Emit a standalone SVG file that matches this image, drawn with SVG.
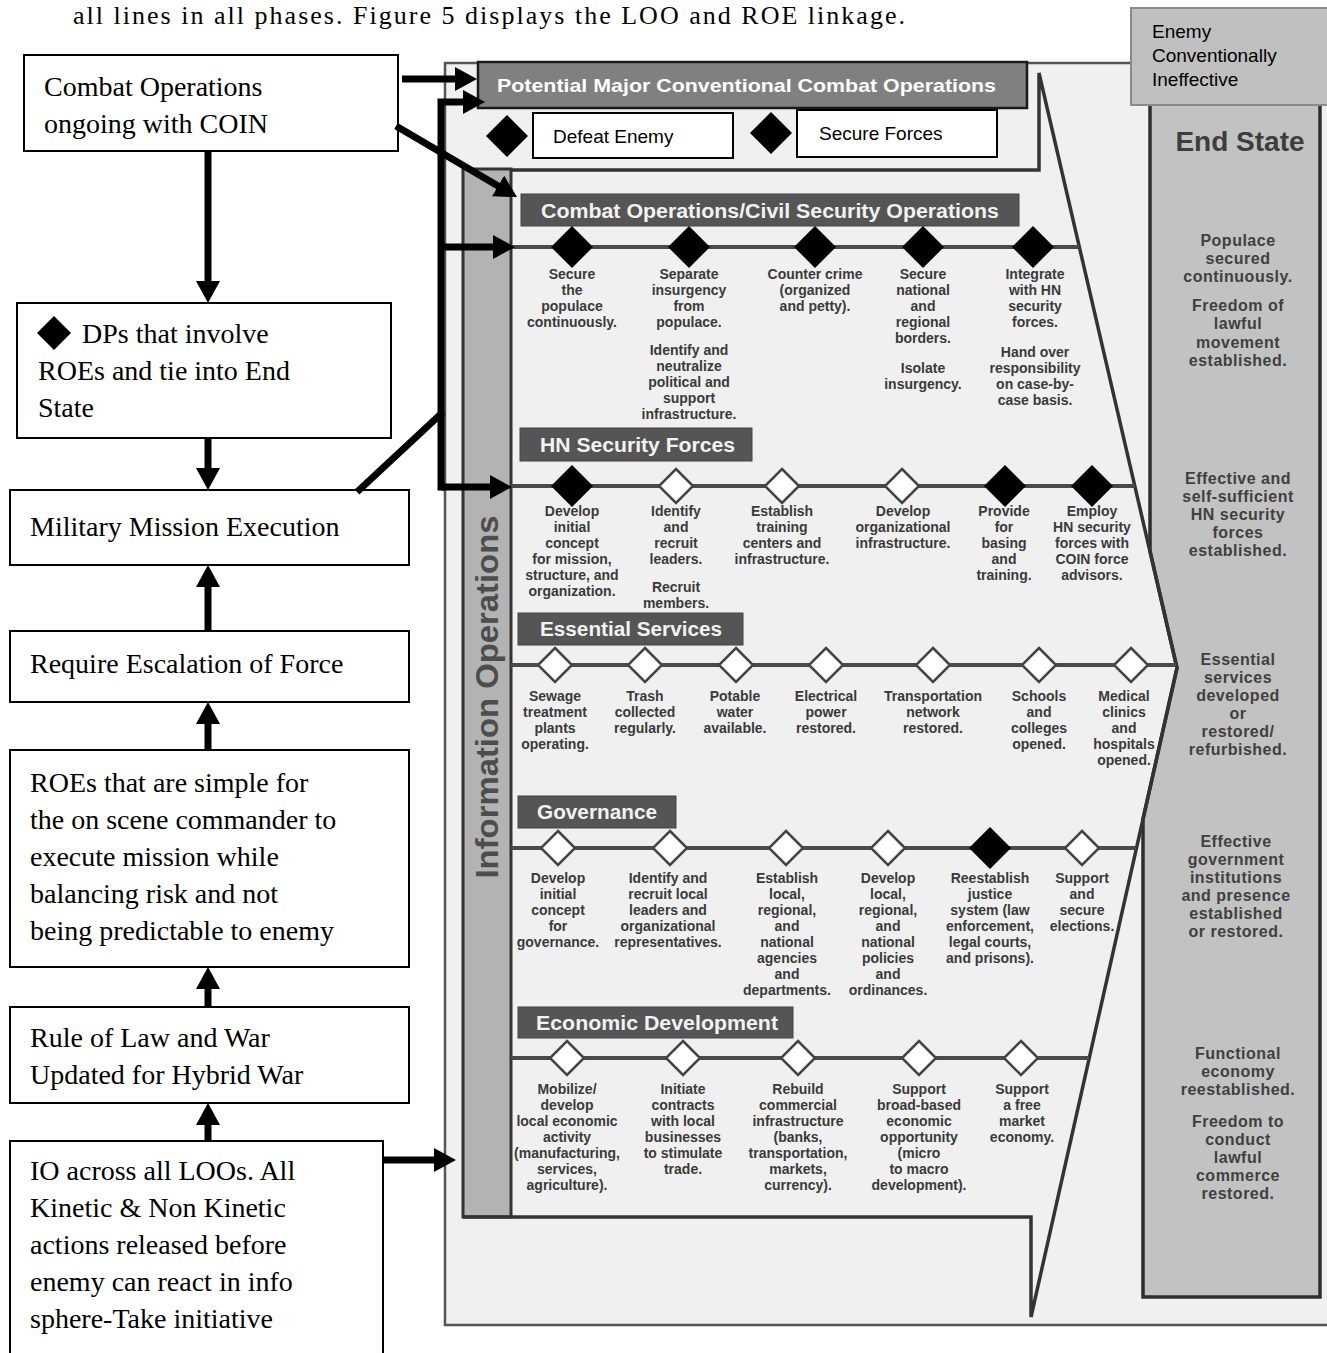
<svg xmlns="http://www.w3.org/2000/svg" xmlns:xlink="http://www.w3.org/1999/xlink" width="1327" height="1353" viewBox="0 0 1327 1353">
<defs>
<marker id="ah" viewBox="0 0 22 24" refX="4" refY="12" markerWidth="22" markerHeight="24" markerUnits="userSpaceOnUse" orient="auto"><path d="M0,0 L22,12 L0,24 Z" fill="#000"/></marker>
<path id="df" d="M0,-21 L21,0 L0,21 L-21,0 Z"/>
<path id="dhh" d="M0,-17 L17,0 L0,17 L-17,0 Z"/>
<style>
.box{fill:#fff;stroke:#000;stroke-width:2}
.bt{font-family:"Liberation Serif","Times New Roman",serif;font-size:28px;fill:#000}
.con{fill:none;stroke:#000;stroke-width:7;stroke-linejoin:miter}
.lb{font-family:"Liberation Sans",Arial,sans-serif;font-weight:bold;font-size:14px;fill:#3a3a3a;text-anchor:middle}
.es{font-family:"Liberation Sans",Arial,sans-serif;font-weight:bold;font-size:16px;letter-spacing:0.5px;fill:#404040;text-anchor:middle}
.est{font-family:"Liberation Sans",Arial,sans-serif;font-weight:bold;font-size:28px;fill:#3d3d3d;text-anchor:middle}
.hdr{fill:#555;stroke:#444;stroke-width:1}
.ht{font-family:"Liberation Sans",Arial,sans-serif;font-weight:bold;font-size:20px;fill:#f2f2f2}
.loo{stroke:#4a4a4a;stroke-width:4;fill:none}
.dk{fill:#000}
.dh{fill:#fff;stroke:#444;stroke-width:2.5}
.fr{fill:none;stroke:#333;stroke-width:3.5;stroke-linejoin:miter}
.sf{font-family:"Liberation Sans",Arial,sans-serif;font-size:19px;fill:#000}
</style>
</defs>

<rect width="1327" height="1353" fill="#fff"/>
<text x="73" y="24" font-family="'Liberation Serif','Times New Roman',serif" font-size="26" textLength="832" lengthAdjust="spacing">all lines in all phases.  Figure 5 displays the LOO and ROE linkage.</text>

<g id="figure">
<rect x="445" y="63" width="890" height="1262" fill="#f0f0f0" stroke="#555" stroke-width="2.5"/>
<polygon id="endstate-col" points="1150,66 1320,66 1320,1297 1143,1297 1143,819 1177,668 1150,551" fill="#c2c2c2" stroke="#2e2e2e" stroke-width="3.5"/>
<rect id="io-bar" x="463" y="169" width="48" height="1048" fill="#b3b3b3" stroke="#333" stroke-width="3"/>
<text transform="translate(498,697) rotate(-90)" text-anchor="middle" font-family="'Liberation Sans',Arial,sans-serif" font-weight="bold" font-size="31" fill="#4d4d4d" textLength="363" lengthAdjust="spacingAndGlyphs">Information Operations</text>
<path class="fr" d="M511,170 H1039 V73 L1177,668 L1031,1317 V1217 H463"/>

<text class="est" x="1240" y="151">End State</text>
<text class="es"><tspan x="1238" y="246">Populace</tspan><tspan x="1238" y="264">secured</tspan><tspan x="1238" y="282">continuously.</tspan><tspan x="1238" y="311">Freedom of</tspan><tspan x="1238" y="329">lawful</tspan><tspan x="1238" y="348">movement</tspan><tspan x="1238" y="366">established.</tspan></text>
<text class="es"><tspan x="1238" y="484">Effective and</tspan><tspan x="1238" y="502">self-sufficient</tspan><tspan x="1238" y="520">HN security</tspan><tspan x="1238" y="538">forces</tspan><tspan x="1238" y="556">established.</tspan></text>
<text class="es"><tspan x="1238" y="665">Essential</tspan><tspan x="1238" y="683">services</tspan><tspan x="1238" y="701">developed</tspan><tspan x="1238" y="719">or</tspan><tspan x="1238" y="737">restored/</tspan><tspan x="1238" y="755">refurbished.</tspan></text>
<text class="es"><tspan x="1236" y="847">Effective</tspan><tspan x="1236" y="865">government</tspan><tspan x="1236" y="883">institutions</tspan><tspan x="1236" y="901">and presence</tspan><tspan x="1236" y="919">established</tspan><tspan x="1236" y="937">or restored.</tspan></text>
<text class="es"><tspan x="1238" y="1059">Functional</tspan><tspan x="1238" y="1077">economy</tspan><tspan x="1238" y="1095">reestablished.</tspan><tspan x="1238" y="1127">Freedom to</tspan><tspan x="1238" y="1145">conduct</tspan><tspan x="1238" y="1163">lawful</tspan><tspan x="1238" y="1181">commerce</tspan><tspan x="1238" y="1199">restored.</tspan></text>
</g>

<g id="potential">
<rect x="478" y="62" width="549" height="46" fill="#808080" stroke="#1a1a1a" stroke-width="2.5"/>
<text x="497" y="92" font-family="'Liberation Sans',Arial,sans-serif" font-weight="bold" font-size="19" fill="#fff" textLength="499" lengthAdjust="spacingAndGlyphs">Potential Major Conventional Combat Operations</text>
<use xlink:href="#df" x="507" y="136" class="dk"/>
<rect x="533" y="113" width="200" height="45" class="box"/>
<text class="sf" x="553" y="143">Defeat Enemy</text>
<use xlink:href="#df" x="771" y="133" class="dk"/>
<rect x="797" y="110" width="200" height="47" class="box"/>
<text class="sf" x="819" y="140">Secure Forces</text>
</g>

<g id="enemy-ineffective">
<rect x="1131" y="8" width="200" height="97" fill="#c0c0c0" stroke="#8a8a8a" stroke-width="2"/>
<text class="sf"><tspan x="1152" y="38">Enemy</tspan><tspan x="1152" y="62">Conventionally</tspan><tspan x="1152" y="86">Ineffective</tspan></text>
</g>

<g id="loo-civsec">
<rect class="hdr" x="521" y="194" width="498" height="32"/>
<text class="ht" x="541" y="218" font-size="19" textLength="458" lengthAdjust="spacingAndGlyphs">Combat Operations/Civil Security Operations</text>
<line class="loo" x1="511" y1="247" x2="1079" y2="247"/>
<use xlink:href="#df" x="572" y="247" class="dk"/>
<use xlink:href="#df" x="689" y="247" class="dk"/>
<use xlink:href="#df" x="815" y="247" class="dk"/>
<use xlink:href="#df" x="923" y="247" class="dk"/>
<use xlink:href="#df" x="1033" y="247" class="dk"/>
<text class="lb"><tspan x="572" y="279">Secure</tspan><tspan x="572" y="295">the</tspan><tspan x="572" y="311">populace</tspan><tspan x="572" y="327">continuously.</tspan></text>
<text class="lb"><tspan x="689" y="279">Separate</tspan><tspan x="689" y="295">insurgency</tspan><tspan x="689" y="311">from</tspan><tspan x="689" y="327">populace.</tspan><tspan x="689" y="355">Identify and</tspan><tspan x="689" y="371">neutralize</tspan><tspan x="689" y="387">political and</tspan><tspan x="689" y="403">support</tspan><tspan x="689" y="419">infrastructure.</tspan></text>
<text class="lb"><tspan x="815" y="279">Counter crime</tspan><tspan x="815" y="295">(organized</tspan><tspan x="815" y="311">and petty).</tspan></text>
<text class="lb"><tspan x="923" y="279">Secure</tspan><tspan x="923" y="295">national</tspan><tspan x="923" y="311">and</tspan><tspan x="923" y="327">regional</tspan><tspan x="923" y="343">borders.</tspan><tspan x="923" y="373">Isolate</tspan><tspan x="923" y="389">insurgency.</tspan></text>
<text class="lb"><tspan x="1035" y="279">Integrate</tspan><tspan x="1035" y="295">with HN</tspan><tspan x="1035" y="311">security</tspan><tspan x="1035" y="327">forces.</tspan><tspan x="1035" y="357">Hand over</tspan><tspan x="1035" y="373">responsibility</tspan><tspan x="1035" y="389">on case-by-</tspan><tspan x="1035" y="405">case basis.</tspan></text>
</g>

<g id="loo-hn">
<rect class="hdr" x="520" y="428" width="232" height="33"/>
<text class="ht" x="540" y="452" textLength="195" lengthAdjust="spacingAndGlyphs">HN Security Forces</text>
<line class="loo" x1="511" y1="486" x2="1135" y2="486"/>
<use xlink:href="#df" x="572" y="486" class="dk"/>
<use xlink:href="#dhh" x="676" y="486" class="dh"/>
<use xlink:href="#dhh" x="782" y="486" class="dh"/>
<use xlink:href="#dhh" x="902" y="486" class="dh"/>
<use xlink:href="#df" x="1005" y="486" class="dk"/>
<use xlink:href="#df" x="1092" y="486" class="dk"/>
<text class="lb"><tspan x="572" y="516">Develop</tspan><tspan x="572" y="532">initial</tspan><tspan x="572" y="548">concept</tspan><tspan x="572" y="564">for mission,</tspan><tspan x="572" y="580">structure, and</tspan><tspan x="572" y="596">organization.</tspan></text>
<text class="lb"><tspan x="676" y="516">Identify</tspan><tspan x="676" y="532">and</tspan><tspan x="676" y="548">recruit</tspan><tspan x="676" y="564">leaders.</tspan><tspan x="676" y="592">Recruit</tspan><tspan x="676" y="608">members.</tspan></text>
<text class="lb"><tspan x="782" y="516">Establish</tspan><tspan x="782" y="532">training</tspan><tspan x="782" y="548">centers and</tspan><tspan x="782" y="564">infrastructure.</tspan></text>
<text class="lb"><tspan x="903" y="516">Develop</tspan><tspan x="903" y="532">organizational</tspan><tspan x="903" y="548">infrastructure.</tspan></text>
<text class="lb"><tspan x="1004" y="516">Provide</tspan><tspan x="1004" y="532">for</tspan><tspan x="1004" y="548">basing</tspan><tspan x="1004" y="564">and</tspan><tspan x="1004" y="580">training.</tspan></text>
<text class="lb"><tspan x="1092" y="516">Employ</tspan><tspan x="1092" y="532">HN security</tspan><tspan x="1092" y="548">forces with</tspan><tspan x="1092" y="564">COIN force</tspan><tspan x="1092" y="580">advisors.</tspan></text>
</g>

<g id="loo-essential">
<rect class="hdr" x="518" y="613" width="225" height="32"/>
<text class="ht" x="540" y="636" textLength="182" lengthAdjust="spacingAndGlyphs">Essential Services</text>
<line class="loo" x1="511" y1="665" x2="1176" y2="665"/>
<use xlink:href="#dhh" x="555" y="665" class="dh"/>
<use xlink:href="#dhh" x="645" y="665" class="dh"/>
<use xlink:href="#dhh" x="736" y="665" class="dh"/>
<use xlink:href="#dhh" x="826" y="665" class="dh"/>
<use xlink:href="#dhh" x="933" y="665" class="dh"/>
<use xlink:href="#dhh" x="1039" y="665" class="dh"/>
<use xlink:href="#dhh" x="1131" y="665" class="dh"/>
<text class="lb"><tspan x="555" y="701">Sewage</tspan><tspan x="555" y="717">treatment</tspan><tspan x="555" y="733">plants</tspan><tspan x="555" y="749">operating.</tspan></text>
<text class="lb"><tspan x="645" y="701">Trash</tspan><tspan x="645" y="717">collected</tspan><tspan x="645" y="733">regularly.</tspan></text>
<text class="lb"><tspan x="735" y="701">Potable</tspan><tspan x="735" y="717">water</tspan><tspan x="735" y="733">available.</tspan></text>
<text class="lb"><tspan x="826" y="701">Electrical</tspan><tspan x="826" y="717">power</tspan><tspan x="826" y="733">restored.</tspan></text>
<text class="lb"><tspan x="933" y="701">Transportation</tspan><tspan x="933" y="717">network</tspan><tspan x="933" y="733">restored.</tspan></text>
<text class="lb"><tspan x="1039" y="701">Schools</tspan><tspan x="1039" y="717">and</tspan><tspan x="1039" y="733">colleges</tspan><tspan x="1039" y="749">opened.</tspan></text>
<text class="lb"><tspan x="1124" y="701">Medical</tspan><tspan x="1124" y="717">clinics</tspan><tspan x="1124" y="733">and</tspan><tspan x="1124" y="749">hospitals</tspan><tspan x="1124" y="765">opened.</tspan></text>
</g>

<g id="loo-governance">
<rect class="hdr" x="518" y="796" width="158" height="32"/>
<text class="ht" x="537" y="819" textLength="120" lengthAdjust="spacingAndGlyphs">Governance</text>
<line class="loo" x1="511" y1="848" x2="1136" y2="848"/>
<use xlink:href="#dhh" x="558" y="848" class="dh"/>
<use xlink:href="#dhh" x="670" y="848" class="dh"/>
<use xlink:href="#dhh" x="786" y="848" class="dh"/>
<use xlink:href="#dhh" x="888" y="848" class="dh"/>
<use xlink:href="#df" x="990" y="848" class="dk"/>
<use xlink:href="#dhh" x="1082" y="848" class="dh"/>
<text class="lb"><tspan x="558" y="883">Develop</tspan><tspan x="558" y="899">initial</tspan><tspan x="558" y="915">concept</tspan><tspan x="558" y="931">for</tspan><tspan x="558" y="947">governance.</tspan></text>
<text class="lb"><tspan x="668" y="883">Identify and</tspan><tspan x="668" y="899">recruit local</tspan><tspan x="668" y="915">leaders and</tspan><tspan x="668" y="931">organizational</tspan><tspan x="668" y="947">representatives.</tspan></text>
<text class="lb"><tspan x="787" y="883">Establish</tspan><tspan x="787" y="899">local,</tspan><tspan x="787" y="915">regional,</tspan><tspan x="787" y="931">and</tspan><tspan x="787" y="947">national</tspan><tspan x="787" y="963">agencies</tspan><tspan x="787" y="979">and</tspan><tspan x="787" y="995">departments.</tspan></text>
<text class="lb"><tspan x="888" y="883">Develop</tspan><tspan x="888" y="899">local,</tspan><tspan x="888" y="915">regional,</tspan><tspan x="888" y="931">and</tspan><tspan x="888" y="947">national</tspan><tspan x="888" y="963">policies</tspan><tspan x="888" y="979">and</tspan><tspan x="888" y="995">ordinances.</tspan></text>
<text class="lb"><tspan x="990" y="883">Reestablish</tspan><tspan x="990" y="899">justice</tspan><tspan x="990" y="915">system (law</tspan><tspan x="990" y="931">enforcement,</tspan><tspan x="990" y="947">legal courts,</tspan><tspan x="990" y="963">and prisons).</tspan></text>
<text class="lb"><tspan x="1082" y="883">Support</tspan><tspan x="1082" y="899">and</tspan><tspan x="1082" y="915">secure</tspan><tspan x="1082" y="931">elections.</tspan></text>
</g>

<g id="loo-economic">
<rect class="hdr" x="518" y="1007" width="275" height="31"/>
<text class="ht" x="536" y="1030" textLength="242" lengthAdjust="spacingAndGlyphs">Economic Development</text>
<line class="loo" x1="511" y1="1058" x2="1089" y2="1058"/>
<use xlink:href="#dhh" x="567" y="1058" class="dh"/>
<use xlink:href="#dhh" x="683" y="1058" class="dh"/>
<use xlink:href="#dhh" x="798" y="1058" class="dh"/>
<use xlink:href="#dhh" x="919" y="1058" class="dh"/>
<use xlink:href="#dhh" x="1021" y="1058" class="dh"/>
<text class="lb"><tspan x="567" y="1094">Mobilize/</tspan><tspan x="567" y="1110">develop</tspan><tspan x="567" y="1126">local economic</tspan><tspan x="567" y="1142">activity</tspan><tspan x="567" y="1158">(manufacturing,</tspan><tspan x="567" y="1174">services,</tspan><tspan x="567" y="1190">agriculture).</tspan></text>
<text class="lb"><tspan x="683" y="1094">Initiate</tspan><tspan x="683" y="1110">contracts</tspan><tspan x="683" y="1126">with local</tspan><tspan x="683" y="1142">businesses</tspan><tspan x="683" y="1158">to stimulate</tspan><tspan x="683" y="1174">trade.</tspan></text>
<text class="lb"><tspan x="798" y="1094">Rebuild</tspan><tspan x="798" y="1110">commercial</tspan><tspan x="798" y="1126">infrastructure</tspan><tspan x="798" y="1142">(banks,</tspan><tspan x="798" y="1158">transportation,</tspan><tspan x="798" y="1174">markets,</tspan><tspan x="798" y="1190">currency).</tspan></text>
<text class="lb"><tspan x="919" y="1094">Support</tspan><tspan x="919" y="1110">broad-based</tspan><tspan x="919" y="1126">economic</tspan><tspan x="919" y="1142">opportunity</tspan><tspan x="919" y="1158">(micro</tspan><tspan x="919" y="1174">to macro</tspan><tspan x="919" y="1190">development).</tspan></text>
<text class="lb"><tspan x="1022" y="1094">Support</tspan><tspan x="1022" y="1110">a free</tspan><tspan x="1022" y="1126">market</tspan><tspan x="1022" y="1142">economy.</tspan></text>
</g>

<g id="n-combat">
<rect class="box" x="24" y="55" width="374" height="96"/>
<text class="bt"><tspan x="44" y="96">Combat Operations</tspan><tspan x="44" y="133">ongoing with COIN</tspan></text>
</g>
<g id="n-dps">
<rect class="box" x="17" y="303" width="374" height="135"/>
<path d="M54,316 L71,333 L54,350 L37,333 Z" fill="#000"/>
<text class="bt"><tspan x="82" y="343">DPs that involve</tspan><tspan x="38" y="380">ROEs and tie into End</tspan><tspan x="38" y="417">State</tspan></text>
</g>
<g id="n-mission">
<rect class="box" x="10" y="490" width="399" height="75"/>
<text class="bt" x="30" y="536">Military Mission Execution</text>
</g>
<g id="n-escalation">
<rect class="box" x="10" y="631" width="399" height="71"/>
<text class="bt" x="30" y="673">Require Escalation of Force</text>
</g>
<g id="n-roes">
<rect class="box" x="10" y="750" width="399" height="217"/>
<text class="bt"><tspan x="30" y="792">ROEs that are simple for</tspan><tspan x="30" y="829">the on scene commander to</tspan><tspan x="30" y="866">execute mission while</tspan><tspan x="30" y="903">balancing risk and not</tspan><tspan x="30" y="940">being predictable to enemy</tspan></text>
</g>
<g id="n-law">
<rect class="box" x="10" y="1007" width="399" height="96"/>
<text class="bt"><tspan x="30" y="1047">Rule of Law and War</tspan><tspan x="30" y="1084">Updated for Hybrid War</tspan></text>
</g>
<g id="n-io">
<rect class="box" x="10" y="1141" width="373" height="230"/>
<text class="bt"><tspan x="30" y="1180">IO across all LOOs. All</tspan><tspan x="30" y="1217">Kinetic &amp; Non Kinetic</tspan><tspan x="30" y="1254">actions released before</tspan><tspan x="30" y="1291">enemy can react in info</tspan><tspan x="30" y="1328">sphere-Take initiative</tspan></text>
</g>

<g id="connectors">
<line class="con" x1="402" y1="79" x2="459" y2="79" marker-end="url(#ah)"/>
<path class="con" d="M441,490.5 V102 H467" marker-end="url(#ah)"/>
<line class="con" x1="441" y1="247" x2="497" y2="247" marker-end="url(#ah)"/>
<line class="con" x1="441" y1="487" x2="494" y2="487" marker-end="url(#ah)"/>
<line class="con" x1="357" y1="492" x2="443" y2="412"/>
<line class="con" x1="396" y1="126" x2="501.5" y2="188" marker-end="url(#ah)"/>
<line class="con" x1="208" y1="151" x2="208" y2="285" marker-end="url(#ah)"/>
<line class="con" x1="208" y1="438" x2="208" y2="472" marker-end="url(#ah)"/>
<line class="con" x1="208" y1="631" x2="208" y2="583" marker-end="url(#ah)"/>
<line class="con" x1="208" y1="750" x2="208" y2="720" marker-end="url(#ah)"/>
<line class="con" x1="208" y1="1007" x2="208" y2="985" marker-end="url(#ah)"/>
<line class="con" x1="208" y1="1141" x2="208" y2="1121" marker-end="url(#ah)"/>
<line class="con" x1="384" y1="1160" x2="438" y2="1160" marker-end="url(#ah)"/>
</g>
</svg>
